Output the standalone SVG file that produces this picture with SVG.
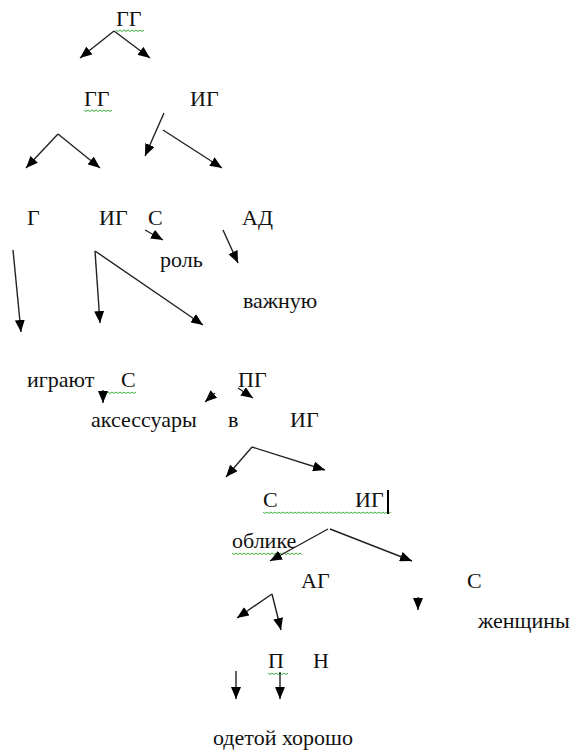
<svg xmlns="http://www.w3.org/2000/svg" width="580" height="754" viewBox="0 0 580 754">
<defs>
<marker id="ah" markerUnits="userSpaceOnUse" markerWidth="12" markerHeight="10" refX="12" refY="5" orient="auto">
<path d="M0,0 L12,5 L0,10 z" fill="#000"/>
</marker>
<style>
.c line{stroke:#222;stroke-width:1.4;marker-end:url(#ah)}
.sq{fill:none;stroke:#3bb03b;stroke-width:1}
</style>
</defs>
<rect width="580" height="754" fill="#fff"/>
<g id="nodes" style="font-family:'Times New Roman','Liberation Serif','DejaVu Serif',serif;font-size:22px" fill="#111">
<g id="n1"><text x="116" y="26">ГГ</text></g>
<g id="n2"><text x="84" y="106">ГГ</text></g>
<g id="n3"><text x="190" y="106">ИГ</text></g>
<g id="n4"><text x="27" y="225">Г</text></g>
<g id="n5"><text x="99" y="225">ИГ</text></g>
<g id="n6"><text x="148" y="225">С</text></g>
<g id="n7"><text x="242" y="225">АД</text></g>
<g id="n8"><text x="160" y="267">роль</text></g>
<g id="n9"><text x="243" y="308">важную</text></g>
<g id="n10"><text x="27" y="387">играют</text></g>
<g id="n11"><text x="121" y="387">С</text></g>
<g id="n12"><text x="238" y="387">ПГ</text></g>
<g id="n13"><text x="91" y="427">аксессуары</text></g>
<g id="n14"><text x="228" y="427">в</text></g>
<g id="n15"><text x="290" y="427">ИГ</text></g>
<g id="n16"><text x="263" y="507">С</text></g>
<g id="n17"><text x="355" y="507">ИГ</text></g>
<g id="n18"><text x="232" y="548">облике</text></g>
<g id="n19"><text x="301" y="588">АГ</text></g>
<g id="n20"><text x="467" y="588">С</text></g>
<g id="n21"><text x="478" y="628">женщины</text></g>
<g id="n22"><text x="268" y="668">П</text></g>
<g id="n23"><text x="313" y="668">Н</text></g>
<g id="n24"><text x="213" y="745">одетой хорошо</text></g>
</g>
<g id="marks">
<path class="sq" d="M116,30 l2,1.5 l2,-1.5 l2,1.5 l2,-1.5 l2,1.5 l2,-1.5 l2,1.5 l2,-1.5 l2,1.5 l2,-1.5 l2,1.5 l2,-1.5 l2,1.5 l2,-1.5"/>
<path class="sq" d="M84,110 l2,1.5 l2,-1.5 l2,1.5 l2,-1.5 l2,1.5 l2,-1.5 l2,1.5 l2,-1.5 l2,1.5 l2,-1.5 l2,1.5 l2,-1.5 l2,1.5 l2,-1.5"/>
<path class="sq" d="M100,392 l2,1.5 l2,-1.5 l2,1.5 l2,-1.5 l2,1.5 l2,-1.5 l2,1.5 l2,-1.5 l2,1.5 l2,-1.5 l2,1.5 l2,-1.5 l2,1.5 l2,-1.5 l2,1.5 l2,-1.5 l2,1.5 l2,-1.5"/>
<path class="sq" d="M263,512 l2,1.5 l2,-1.5 l2,1.5 l2,-1.5 l2,1.5 l2,-1.5 l2,1.5 l2,-1.5 l2,1.5 l2,-1.5 l2,1.5 l2,-1.5 l2,1.5 l2,-1.5 l2,1.5 l2,-1.5 l2,1.5 l2,-1.5 l2,1.5 l2,-1.5 l2,1.5 l2,-1.5 l2,1.5 l2,-1.5 l2,1.5 l2,-1.5 l2,1.5 l2,-1.5 l2,1.5 l2,-1.5 l2,1.5 l2,-1.5 l2,1.5 l2,-1.5 l2,1.5 l2,-1.5 l2,1.5 l2,-1.5 l2,1.5 l2,-1.5 l2,1.5 l2,-1.5 l2,1.5 l2,-1.5 l2,1.5 l2,-1.5 l2,1.5 l2,-1.5 l2,1.5 l2,-1.5 l2,1.5 l2,-1.5 l2,1.5 l2,-1.5 l2,1.5 l2,-1.5 l2,1.5 l2,-1.5 l2,1.5 l2,-1.5 l2,1.5 l2,-1.5 l2,1.5 l2,-1.5"/>
<path class="sq" d="M232,553 l2,1.5 l2,-1.5 l2,1.5 l2,-1.5 l2,1.5 l2,-1.5 l2,1.5 l2,-1.5 l2,1.5 l2,-1.5 l2,1.5 l2,-1.5 l2,1.5 l2,-1.5 l2,1.5 l2,-1.5 l2,1.5 l2,-1.5 l2,1.5 l2,-1.5 l2,1.5 l2,-1.5 l2,1.5 l2,-1.5 l2,1.5 l2,-1.5 l2,1.5 l2,-1.5 l2,1.5 l2,-1.5 l2,1.5 l2,-1.5 l2,1.5 l2,-1.5 l2,1.5"/>
<path class="sq" d="M268,673 l2,1.5 l2,-1.5 l2,1.5 l2,-1.5 l2,1.5 l2,-1.5 l2,1.5 l2,-1.5 l2,1.5 l2,-1.5"/>
<line x1="388" y1="490" x2="388" y2="514" stroke="#000" stroke-width="2"/>
</g>
<g id="connectors" class="c">
<line x1="114" y1="31" x2="80" y2="58"/>
<line x1="114" y1="31" x2="150" y2="58"/>
<line x1="58" y1="134" x2="26" y2="168"/>
<line x1="58" y1="134" x2="100" y2="168"/>
<line x1="164" y1="113" x2="145" y2="156"/>
<line x1="163" y1="130" x2="222" y2="168"/>
<line x1="145" y1="230" x2="163" y2="240"/>
<line x1="223" y1="230" x2="238" y2="263"/>
<line x1="13" y1="250" x2="21" y2="332"/>
<line x1="95" y1="251" x2="100" y2="323"/>
<line x1="95" y1="251" x2="203" y2="325"/>
<line x1="103" y1="390" x2="103" y2="403"/>
<line x1="215" y1="393" x2="205" y2="402"/>
<line x1="238" y1="388" x2="253" y2="398"/>
<line x1="252" y1="447" x2="226" y2="477"/>
<line x1="252" y1="447" x2="325" y2="470"/>
<line x1="328" y1="529" x2="270" y2="561"/>
<line x1="330" y1="529" x2="412" y2="561"/>
<line x1="272" y1="594" x2="237" y2="618"/>
<line x1="272" y1="594" x2="281" y2="630"/>
<line x1="418" y1="597" x2="418" y2="610"/>
<line x1="236" y1="671" x2="236" y2="699"/>
<line x1="280" y1="672" x2="280" y2="699"/>
</g>
</svg>
